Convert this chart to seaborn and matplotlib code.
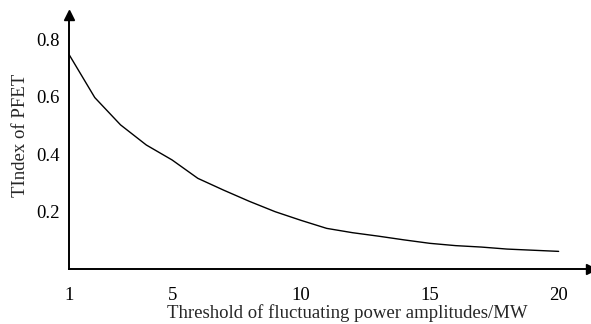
import matplotlib
matplotlib.use('Agg')
import matplotlib.pyplot as plt
import seaborn as sns
import pandas as pd

# threshold values (MW) and the PFET index
thresholds = list(range(1, 21))
pfet_index = [0.747, 0.597, 0.502, 0.432, 0.380, 0.316, 0.275, 0.236, 0.200, 0.170,
              0.142, 0.127, 0.115, 0.102, 0.090, 0.082, 0.077, 0.070, 0.066, 0.062]
x_ticks = [1, 5, 10, 15, 20]
y_ticks = [0.2, 0.4, 0.6, 0.8]

sns.set_style('white')
plt.rcParams['font.family'] = ['Liberation Serif', 'DejaVu Serif']

df = pd.DataFrame({'threshold': thresholds, 'pfet': pfet_index})

fig = plt.figure(figsize=(5.91, 3.24), dpi=100)
ax = fig.add_axes([69 / 591, 1 - 269.2 / 324, 1 - 69 / 591, (269.2 - 14.5) / 324])

sns.lineplot(data=df, x='threshold', y='pfet', color='black', linewidth=1.0, ax=ax)

ax.set_xlim(1, 1 + (591 - 69) / 25.77)
ax.set_ylim(0, (269.2 - 14.5) / 287.5)
ax.set_xticks(x_ticks)
ax.set_yticks(y_ticks)
ax.set_yticklabels([f'{v:.1f}' for v in y_ticks])

sns.despine(ax=ax)
for side in ['left', 'bottom']:
    ax.spines[side].set_linewidth(1.4)
    ax.spines[side].set_color('black')

ax.tick_params(axis='both', direction='in', length=6, width=1, colors='black', labelsize=13.5)
ax.tick_params(axis='x', pad=13)
ax.tick_params(axis='y', pad=7)

# arrow heads on the axes
ax.plot(1, 0, '>k', markersize=7, transform=ax.transAxes, clip_on=False)
ax.plot(0, 1, '^k', markersize=7, transform=ax.transAxes, clip_on=False)

ax.set_xlabel('Threshold of fluctuating power amplitudes/MW', fontsize=13.5)
ax.set_ylabel('TIndex of PFET', fontsize=13.5)
ax.xaxis.set_label_coords(0.5326, -0.138)
ax.yaxis.set_label_coords(-0.076, 0.527)

fig.savefig('out.png', dpi=100)
